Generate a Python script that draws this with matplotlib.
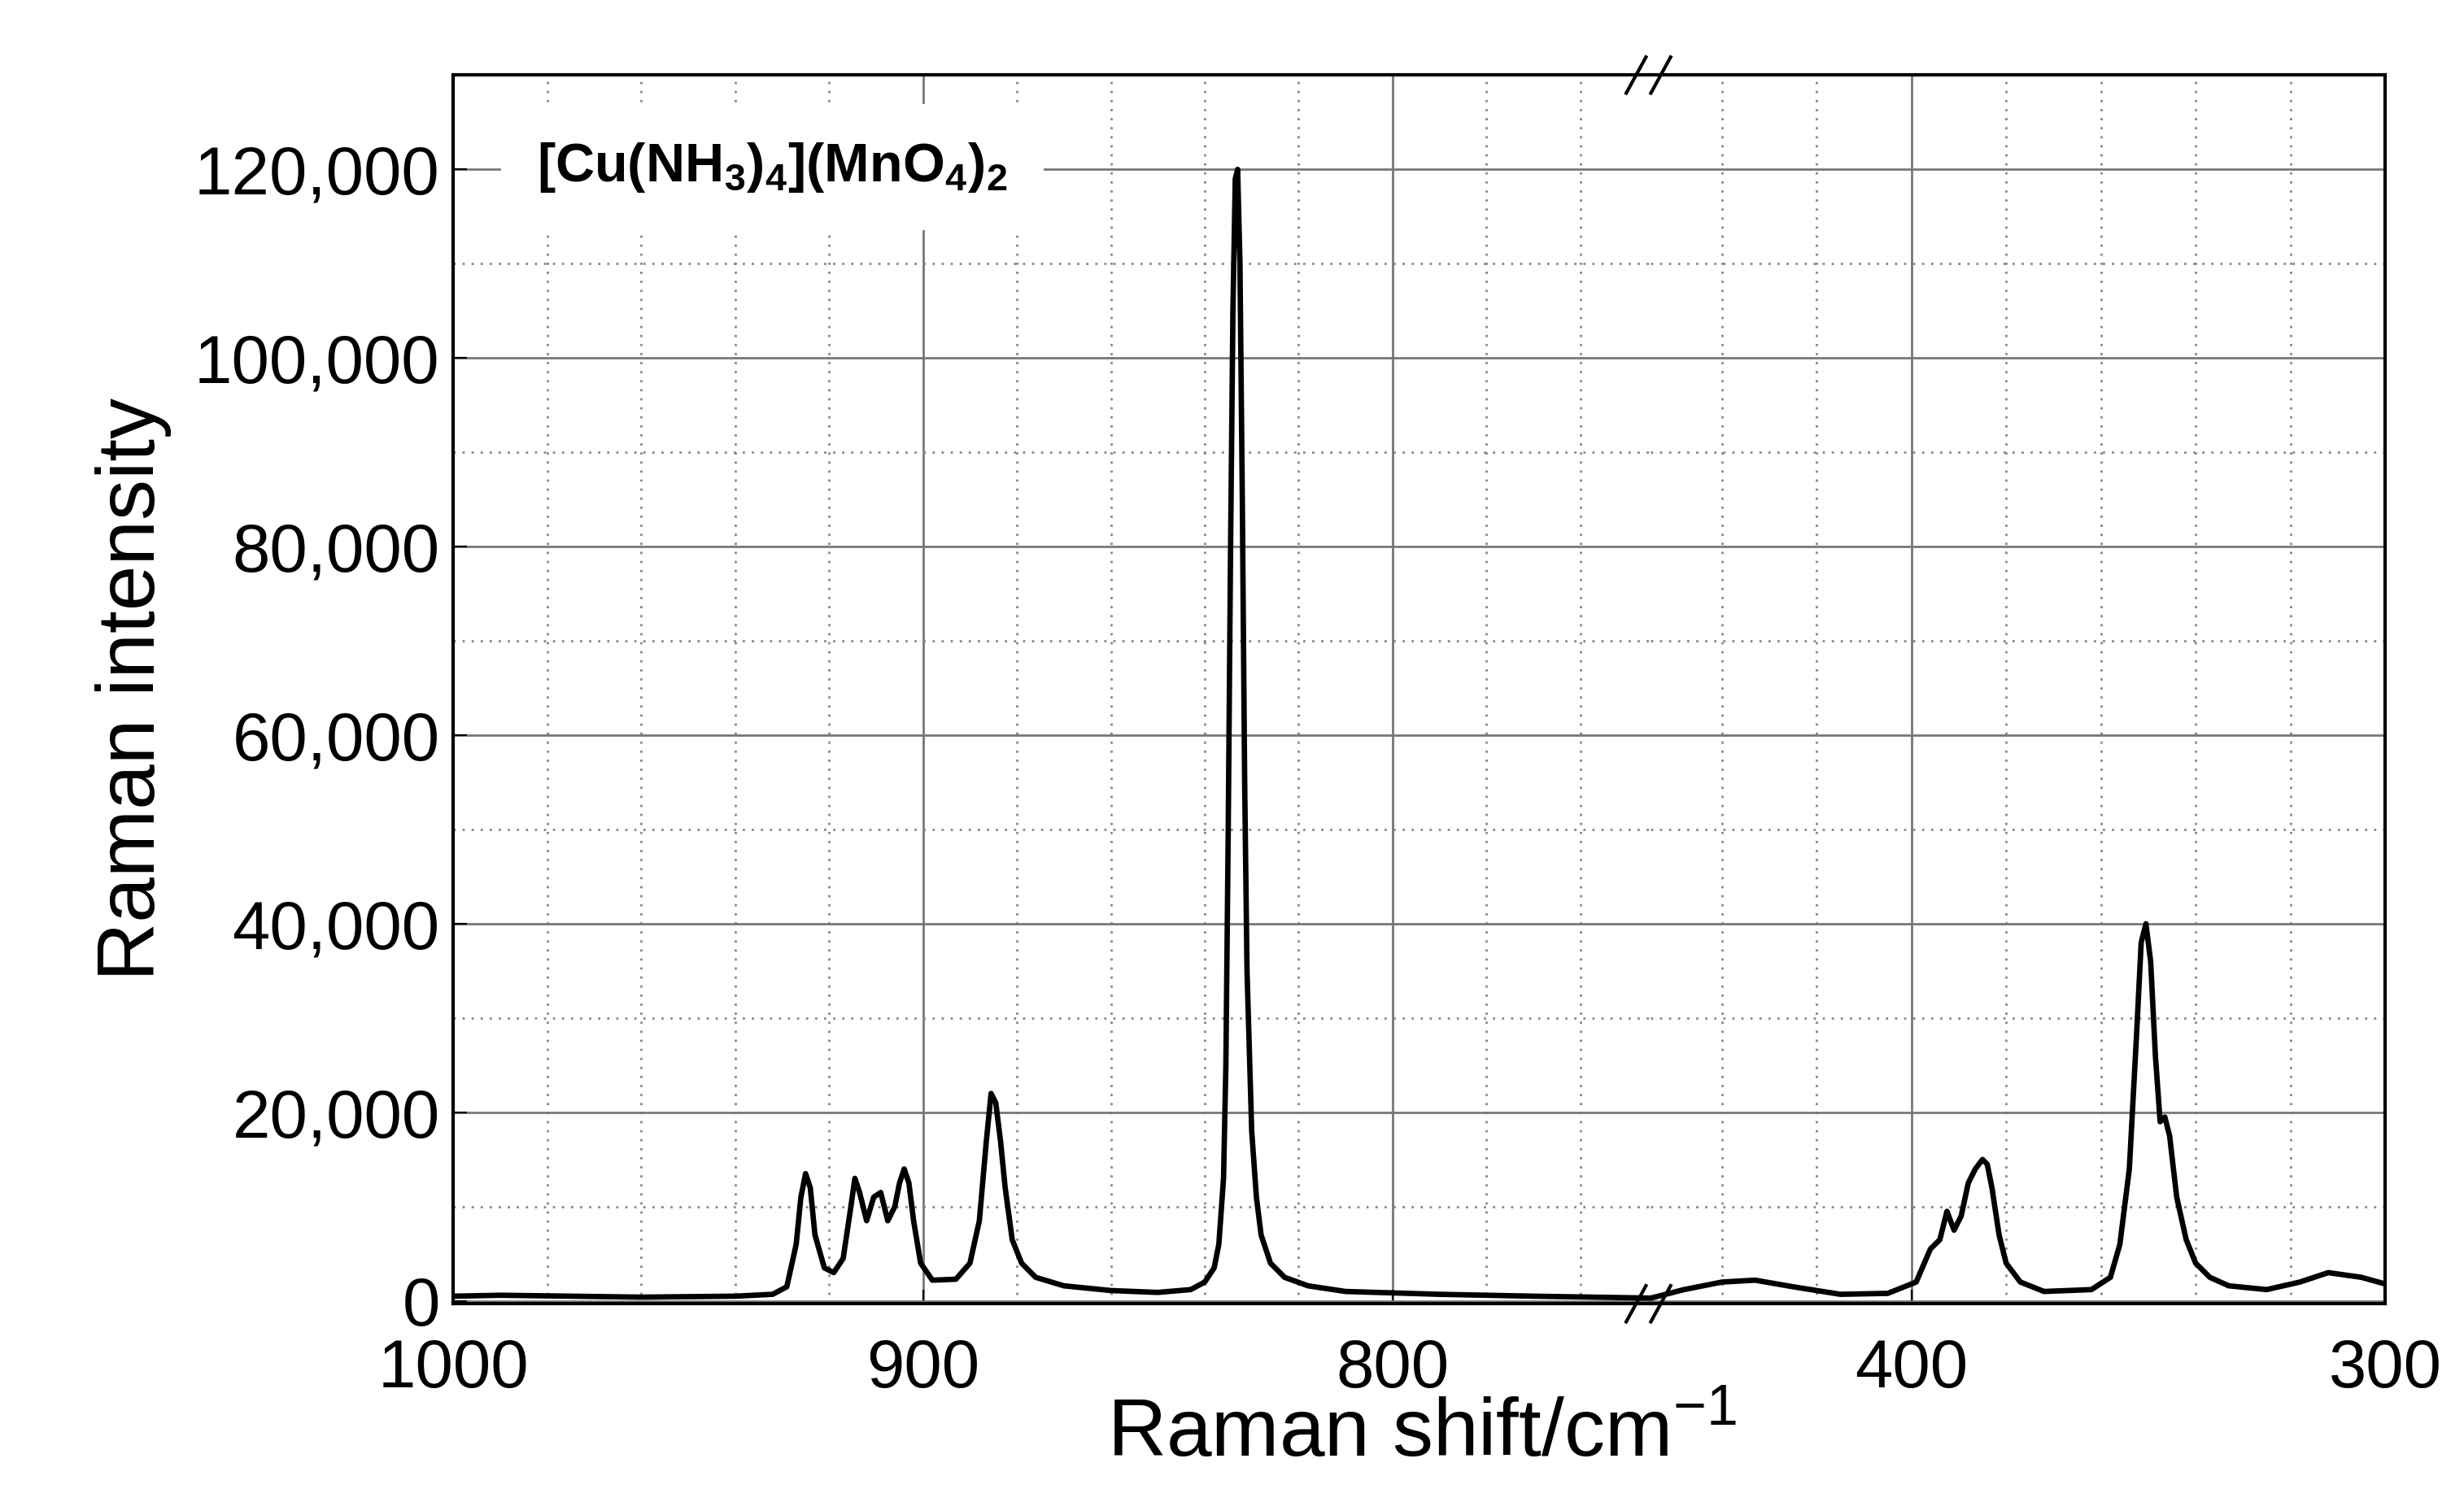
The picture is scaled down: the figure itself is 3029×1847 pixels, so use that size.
import matplotlib
matplotlib.use("Agg")
import matplotlib.pyplot as plt
from matplotlib.ticker import MultipleLocator, FuncFormatter

plt.rcParams['font.family'] = ['Liberation Sans', 'DejaVu Sans']
plt.rcParams['mathtext.fontset'] = 'custom'
plt.rcParams['mathtext.rm'] = 'Liberation Sans'
plt.rcParams['mathtext.bf'] = 'Liberation Sans:bold'

left_x = [1000, 990, 960, 940, 932, 929, 927, 926, 925, 924, 923, 921, 919, 917, 915.5, 914.5, 913.5, 912, 910.5, 909, 907.5, 906, 905, 904, 903, 902, 900.5, 898, 893, 890, 888, 886.5, 885.5, 884.5, 883.5, 882.5, 881, 879, 876, 870, 860, 850, 843, 840, 838, 837, 836, 835.5, 835, 834.5, 834, 833.5, 833, 832.5, 832, 831.5, 831, 830, 829, 828, 826, 823, 818, 810, 790, 770, 745]
left_y = [500, 600, 400, 500, 700, 1500, 6000, 11000, 13500, 12000, 7000, 3500, 3000, 4500, 9500, 13000, 11500, 8500, 11000, 11500, 8500, 10000, 12500, 14000, 12500, 8500, 4000, 2200, 2300, 4000, 8500, 17000, 22000, 21000, 17000, 12000, 6500, 4000, 2500, 1600, 1100, 900, 1200, 2000, 3500, 6000, 13000, 25000, 50000, 80000, 105000, 119000, 120000, 110000, 85000, 55000, 35000, 18000, 11000, 7000, 4000, 2500, 1600, 1000, 700, 500, 300]
right_x = [455, 448, 440, 433, 425, 415, 405, 399, 396, 394, 392.5, 391, 389.5, 388, 386.5, 385, 384, 383, 381.5, 380, 377, 372, 362, 358, 356, 354, 352.5, 351.5, 350.5, 349.5, 348.5, 347.5, 346.5, 345.5, 344, 342, 340, 337, 333, 325, 318, 312, 305, 300]
right_y = [300, 1200, 2000, 2200, 1500, 700, 800, 2000, 5500, 6500, 9500, 7500, 9000, 12500, 14000, 15000, 14500, 12000, 7000, 4000, 2000, 1000, 1200, 2500, 6000, 14000, 28000, 38000, 40000, 36000, 26000, 19000, 19500, 17500, 11000, 6500, 4000, 2500, 1600, 1200, 2000, 3000, 2500, 1800]

fig = plt.figure(figsize=(15.145, 9.235), dpi=200)
L, B, H = 0.184, 0.132, 0.95 - 0.132
R = 0.968
brk = 0.670
ax1 = fig.add_axes([L, B, brk - L, H])
ax2 = fig.add_axes([brk, B, R - brk, H], sharey=ax1)

for ax, xs, ys, lim in [(ax1, left_x, left_y, (1000, 745)), (ax2, right_x, right_y, (455, 300))]:
    ax.plot(xs, ys, color="black", lw=2.4)
    ax.set_xlim(*lim)
    ax.set_ylim(-300, 130000)
    ax.xaxis.set_major_locator(MultipleLocator(100))
    ax.xaxis.set_minor_locator(MultipleLocator(20))
    ax.yaxis.set_major_locator(MultipleLocator(20000))
    ax.yaxis.set_minor_locator(MultipleLocator(10000))
    ax.grid(which="major", color="#777777", lw=1.0)
    ax.grid(which="minor", color="#888888", lw=1.0, ls=(0, (1, 3)))
    ax.tick_params(axis="both", which="major", labelsize=30, direction="in", length=6)
    ax.tick_params(axis="x", pad=15)
    ax.tick_params(which="minor", length=0)
    for s in ax.spines.values():
        s.set_linewidth(1.5)

ax1.yaxis.set_major_formatter(FuncFormatter(lambda v, p: f"{int(v):,}"))
ax1.tick_params(axis="y", pad=6)
ax1.spines["right"].set_visible(False)
ax2.spines["left"].set_visible(False)
ax2.tick_params(axis="y", which="both", left=False, labelleft=False)
ax1.set_ylabel("Raman intensity", fontsize=36, labelpad=10)
fig.text(0.577, 0.03, "Raman shift/cm$^{-1}$", fontsize=36, ha="center")

for yf in (B + H, B):
    for dx in (-0.006, 0.004):
        fig.add_artist(plt.Line2D([brk + dx - 0.004, brk + dx + 0.004], [yf - 0.012, yf + 0.012],
                                  color="black", lw=1.5, transform=fig.transFigure))

ax1.text(0.07, 0.925, r"[Cu(NH$_\mathbf{3}$)$_\mathbf{4}$](MnO$_\mathbf{4}$)$_\mathbf{2}$",
         transform=ax1.transAxes, fontsize=24, fontweight="bold", va="center", ha="left",
         bbox=dict(facecolor="white", edgecolor="none", pad=16))

fig.savefig("out.png", dpi=200)
